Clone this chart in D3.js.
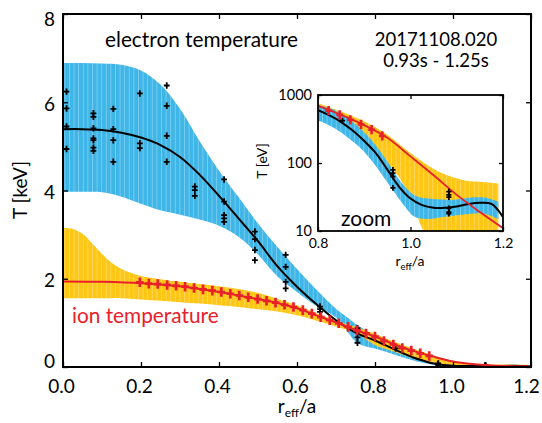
<!DOCTYPE html>
<html><head><meta charset="utf-8">
<script src="https://cdn.jsdelivr.net/npm/d3@7"></script>
<style>body{margin:0;background:#fff} text{font-family:Lato,"Open Sans",sans-serif}</style>
</head><body><svg id="c" width="542" height="423"></svg>
<script>
// ---------- data ----------
const xTicks = [0, 0.2, 0.4, 0.6, 0.8, 1.0, 1.2];
const yTicks = [0, 2, 4, 6, 8];
const insetXTicks = [0.8, 1.0, 1.2];
const insetYTicks = [10, 100, 1000];

// electron temperature fit (keV)
const teFitR = [0,0.05,0.10,0.15,0.20,0.25,0.30,0.35,0.40,0.45,0.50,0.55,0.60,0.65,0.70,0.75,0.80,0.825,0.85,0.875,0.90,0.925,0.95,0.975,1.00,1.025,1.05,1.075,1.10,1.125,1.15,1.175,1.20];
const teFit  = [5.39,5.39,5.37,5.31,5.20,5.03,4.76,4.36,3.88,3.37,2.85,2.28,1.82,1.42,1.06,0.78,0.60,0.50,0.40,0.30,0.21,0.14,0.080,0.045,0.030,0.024,0.022,0.022,0.023,0.025,0.026,0.025,0.016];

// electron temperature uncertainty band (keV)
const teBandR = [0,0.05,0.10,0.15,0.20,0.25,0.30,0.35,0.40,0.45,0.50,0.55,0.60,0.65,0.70,0.725,0.75,0.775,0.80,0.83,0.86,0.89,0.92,0.95,0.98,1.01,1.04,1.07,1.10,1.13,1.16,1.19];
const teUpper = [6.89,6.89,6.88,6.85,6.72,6.40,5.85,5.12,4.45,3.85,3.25,2.72,2.22,1.75,1.32,1.15,0.98,0.84,0.71,0.62,0.48,0.33,0.20,0.105,0.052,0.033,0.030,0.029,0.029,0.031,0.031,0.027];
const teLower = [3.97,3.97,3.96,3.86,3.70,3.55,3.45,3.34,3.20,2.95,2.55,2.05,1.70,1.38,1.12,0.85,0.58,0.47,0.42,0.34,0.25,0.17,0.10,0.052,0.027,0.016,0.015,0.016,0.017,0.018,0.018,0.015];

// ion temperature fit (keV)
const tiFitR = [0,0.1,0.2,0.3,0.4,0.5,0.55,0.6,0.65,0.7,0.75,0.8,0.85,0.9,0.95,1.0,1.05,1.1,1.15,1.2];
const tiFit  = [1.94,1.93,1.90,1.83,1.70,1.54,1.45,1.33,1.17,1.01,0.84,0.69,0.51,0.36,0.235,0.125,0.066,0.034,0.019,0.011];

// ion temperature uncertainty band (keV)
const tiBandR = [0,0.025,0.05,0.075,0.10,0.125,0.15,0.20,0.25,0.30,0.35,0.40,0.45,0.50,0.55,0.60,0.65,0.70,0.75,0.80,0.83,0.86,0.89,0.92,0.95,0.98,1.00,1.03,1.06,1.09,1.12,1.15,1.19];
const tiUpper = [3.15,3.13,3.02,2.80,2.56,2.36,2.22,2.06,1.99,1.93,1.88,1.83,1.77,1.68,1.54,1.40,1.22,1.05,0.91,0.755,0.64,0.54,0.44,0.35,0.26,0.18,0.14,0.10,0.075,0.062,0.055,0.053,0.050];
const tiLower = [1.56,1.56,1.56,1.56,1.56,1.56,1.56,1.53,1.50,1.47,1.44,1.40,1.36,1.31,1.26,1.17,1.05,0.92,0.77,0.50,0.40,0.31,0.22,0.16,0.10,0.055,0.030,0.0095,0.005,0.004,0.003,0.003,0.003];

// electron temperature measurements (keV)
const tePtsR = [0.009,0.009,0.009,0.009, 0.078,0.078,0.078,0.078,0.078,0.078,0.078, 0.129,0.129,0.129,0.129, 0.197,0.197,0.197, 0.266,0.266,0.266,0.266, 0.338,0.338,0.338, 0.413,0.413,0.413,0.413,0.413, 0.492,0.492,0.492,0.492, 0.571,0.571,0.571,0.571, 0.659,0.659,0.659, 0.755,0.755,0.755,0.755, 0.853, 0.962,0.962,0.962,0.962, 1.083,1.083,1.083,1.083,1.083,1.083];
const tePtsT = [6.24,5.86,5.45,4.94, 5.75,5.67,5.41,5.18,5.14,4.97,4.90, 5.85,5.39,5.14,4.65, 6.20,5.07,4.96, 6.38,5.92,5.24,4.65, 4.09,4.01,3.88, 4.25,3.75,3.44,3.37,3.29, 3.07,2.90,2.65,2.42, 2.54,2.27,1.93,1.78, 1.37,1.31,1.25, 0.88,0.80,0.67,0.55, 0.42, 0.079,0.071,0.063,0.043, 0.038,0.034,0.0315,0.0215,0.019,0.018];

// ion temperature measurements (keV)
const tiPtsR = [0.197,0.220,0.243,0.267,0.290,0.313,0.336,0.359,0.383,0.406,0.429,0.452,0.475,0.499,0.522,0.545,0.568,0.591,0.615,0.638,0.661,0.684,0.707,0.731,0.754,0.777,0.800,0.823,0.847,0.870,0.893,0.916,0.939];
const tiPtsT = [1.92,1.89,1.88,1.86,1.84,1.82,1.79,1.76,1.73,1.70,1.66,1.62,1.58,1.54,1.50,1.46,1.41,1.36,1.29,1.21,1.13,1.06,0.99,0.91,0.83,0.76,0.69,0.59,0.51,0.43,0.37,0.31,0.25];

// ---------- drawing ----------
const BLUE = "#3eb6e7", YEL = "#ffc614", RED = "#e8202a";
const FONT = "Lato";
const svg = d3.select("#c");
const M = {l:63, r:531, t:14, b:367};
const I = {l:318, r:503, t:95, b:231};
const x = d3.scaleLinear().domain([0,1.2]).range([M.l,M.r]);
const y = d3.scaleLinear().domain([0,8]).range([M.b,M.t]);
const xi = d3.scaleLinear().domain([0.8,1.2]).range([I.l,I.r]);
const yi = d3.scaleLog().domain([10,1000]).range([I.b,I.t]);
const CURVE = d3.curveCatmullRom.alpha(0.5);

const defs = svg.append("defs");
function stripes(id, col){
  const p = defs.append("pattern").attr("id",id).attr("patternUnits","userSpaceOnUse")
    .attr("width",4.6).attr("height",20);
  p.append("rect").attr("width",4.6).attr("height",20).attr("fill",col);
  p.append("rect").attr("x",0).attr("width",0.8).attr("height",20).attr("fill","#fff").attr("opacity",0.35);
}
stripes("pb", BLUE); stripes("py", YEL);
defs.append("clipPath").attr("id","cm").append("rect").attr("x",M.l).attr("y",M.t).attr("width",M.r-M.l).attr("height",M.b-M.t);
defs.append("clipPath").attr("id","ci").append("rect").attr("x",I.l).attr("y",I.t).attr("width",I.r-I.l).attr("height",I.b-I.t);

function zip(r, a, b){ return r.map((v,i)=>({r:v, a:a[i], b:b?b[i]:null})); }
const teBand = zip(teBandR, teUpper, teLower);
const tiBand = zip(tiBandR, tiUpper, tiLower);
const teLine = zip(teFitR, teFit);
const tiLine = zip(tiFitR, tiFit);
const tePts = zip(tePtsR, tePtsT);
const tiPts = zip(tiPtsR, tiPtsT);

function plus(g, data, sx, sy, col, hw, hh, sw){
  g.selectAll(null).data(data).enter().append("path")
    .attr("d", d => { const px = sx(d.r), py = sy(d.a);
      return `M${px-hw},${py}H${px+hw}M${px},${py-hh}V${py+hh}`; })
    .attr("stroke", col).attr("stroke-width", sw).attr("fill","none");
}

// main panel
const gm = svg.append("g").attr("clip-path","url(#cm)");
const areaM = d3.area().x(d=>x(d.r)).y0(d=>y(d.b)).y1(d=>y(d.a)).curve(CURVE);
const lineM = d3.line().x(d=>x(d.r)).y(d=>y(d.a)).curve(CURVE);
gm.append("path").attr("d", areaM(teBand)).attr("fill","url(#pb)");
gm.append("path").attr("d", areaM(tiBand)).attr("fill","url(#py)");
gm.append("path").attr("d", lineM(teLine)).attr("fill","none").attr("stroke","#000").attr("stroke-width",2);
plus(gm, tePts, x, y, "#000", 2.9, 3.2, 1.8);
gm.append("path").attr("d", lineM(tiLine)).attr("fill","none").attr("stroke",RED).attr("stroke-width",2);
plus(gm, tiPts, x, y, RED, 3.8, 4.8, 2.7);

// main axes
svg.append("rect").attr("x",M.l).attr("y",M.t).attr("width",M.r-M.l).attr("height",M.b-M.t)
  .attr("fill","none").attr("stroke","#000").attr("stroke-width",2);
const ax = (g)=>g.call(s=>s.select(".domain").remove()).call(s=>s.selectAll("line").attr("stroke","#000").attr("stroke-width",1.3));
const bx = svg.append("g").attr("transform",`translate(0,${M.b})`)
  .call(d3.axisBottom(x).tickValues(xTicks).tickFormat(d3.format(".1f")).tickSize(-5).tickPadding(13))
  .call(ax);
bx.selectAll("text").attr("font-size",19).attr("fill","#000").attr("font-family",FONT)
  .attr("dx", (d,i)=> i===xTicks.length-1 ? -5 : -2);
svg.append("g").attr("transform",`translate(0,${M.t})`)
  .call(d3.axisTop(x).tickValues(xTicks).tickFormat("").tickSize(-5)).call(ax);
const ly = svg.append("g").attr("transform",`translate(${M.l},0)`)
  .call(d3.axisLeft(y).tickValues(yTicks).tickFormat(d3.format("d")).tickSize(-5).tickPadding(8))
  .call(ax);
ly.selectAll("text").attr("font-size",19).attr("fill","#000").attr("font-family",FONT)
  .attr("transform", d => `translate(0,${d===8?5:(d===0?-6:2)})`);
svg.append("g").attr("transform",`translate(${M.r},0)`)
  .call(d3.axisRight(y).tickValues(yTicks).tickFormat("").tickSize(-5)).call(ax);

// main labels
svg.append("text").attr("transform","translate(27,190) rotate(-90)").attr("text-anchor","middle")
  .attr("font-size",19).text("T [keV]");
const xl = svg.append("text").attr("x",297).attr("y",413).attr("text-anchor","middle").attr("font-size",19);
xl.append("tspan").text("r");
xl.append("tspan").attr("font-size",12).attr("dy",4).text("eff");
xl.append("tspan").attr("dy",-4).text("/a");

svg.append("text").attr("x",105).attr("y",47).attr("font-size",20.8).text("electron temperature");
svg.append("text").attr("x",436).attr("y",46).attr("text-anchor","middle").attr("font-size",18.5).text("20171108.020");
svg.append("text").attr("x",436).attr("y",67).attr("text-anchor","middle").attr("font-size",18.5).text("0.93s - 1.25s");
svg.append("text").attr("x",72).attr("y",323).attr("font-size",20.8).attr("fill",RED).text("ion temperature");

// inset
svg.append("rect").attr("x",I.l).attr("y",I.t).attr("width",I.r-I.l).attr("height",I.b-I.t).attr("fill","#fff");
const gi = svg.append("g").attr("clip-path","url(#ci)");
const areaI = d3.area().x(d=>xi(d.r)).y0(d=>yi(d.b*1000)).y1(d=>yi(d.a*1000)).curve(CURVE);
const lineI = d3.line().x(d=>xi(d.r)).y(d=>yi(d.a*1000)).curve(CURVE);
gi.append("path").attr("d", areaI(tiBand.filter(d=>d.r>=0.75))).attr("fill","url(#py)");
gi.append("path").attr("d", areaI(teBand.filter(d=>d.r>=0.75))).attr("fill","url(#pb)");
gi.append("path").attr("d", lineI(teLine.filter(d=>d.r>=0.75))).attr("fill","none").attr("stroke","#000").attr("stroke-width",2);
gi.append("path").attr("d", lineI(tiLine.filter(d=>d.r>=0.7))).attr("fill","none").attr("stroke",RED).attr("stroke-width",1.8);
const yiT = d=>yi(d*1000);
plus(gi, tiPts.filter(d=>d.r>=0.81), xi, yiT, RED, 3.4, 4.6, 2.6);
plus(gi, tePts.filter(d=>d.r>=0.81), xi, yiT, "#000", 2.6, 2.9, 1.7);
gi.append("text").attr("x",341).attr("y",226).attr("font-size",21).text("zoom");

svg.append("rect").attr("x",I.l).attr("y",I.t).attr("width",I.r-I.l).attr("height",I.b-I.t)
  .attr("fill","none").attr("stroke","#000").attr("stroke-width",1.8);
svg.append("g").attr("transform",`translate(0,${I.b})`)
  .call(d3.axisBottom(xi).tickValues(insetXTicks).tickFormat(d3.format(".1f")).tickSize(-4).tickPadding(7))
  .call(ax).selectAll("text").attr("font-size",14).attr("fill","#000").attr("font-family",FONT);
svg.append("g").attr("transform",`translate(0,${I.t})`)
  .call(d3.axisTop(xi).tickValues(insetXTicks).tickFormat("").tickSize(-4)).call(ax);
svg.append("g").attr("transform",`translate(${I.l},0)`)
  .call(d3.axisLeft(yi).tickValues(insetYTicks).tickFormat(d3.format("d")).tickSize(-4).tickPadding(6))
  .call(ax).selectAll("text").attr("font-size",14.5).attr("fill","#000").attr("font-family",FONT);
svg.append("g").attr("transform",`translate(${I.r},0)`)
  .call(d3.axisRight(yi).tickValues(insetYTicks).tickFormat("").tickSize(-4)).call(ax);
svg.append("text").attr("transform","translate(267,161) rotate(-90)").attr("text-anchor","middle")
  .attr("font-size",14).text("T [eV]");
const xli = svg.append("text").attr("x",410).attr("y",266).attr("text-anchor","middle").attr("font-size",14);
xli.append("tspan").text("r");
xli.append("tspan").attr("font-size",9.5).attr("dy",3.5).text("eff");
xli.append("tspan").attr("dy",-3.5).text("/a");
</script></body></html>
